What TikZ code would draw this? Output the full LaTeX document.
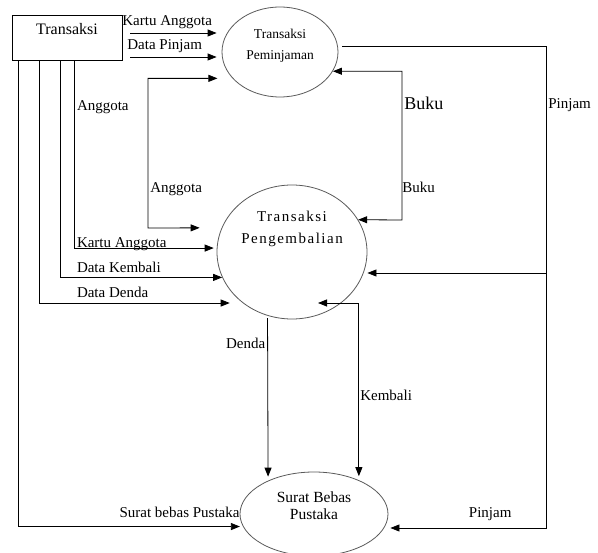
\documentclass[tikz,border=0pt]{standalone}
\usepackage{fontspec}
\setmainfont{Liberation Serif}
\newfontfamily\spacedfont[LetterSpace=10]{Liberation Serif}
\usetikzlibrary{shapes.geometric}
\usetikzlibrary{arrows.meta}
\newcommand{\proctext}[2]{\begin{tabular}{@{}c@{}}#2\\[#1]\end{tabular}}

\begin{document}
\begin{tikzpicture}[x=1pt,y=-1pt,
  >={Triangle[length=9pt,width=7pt]},
  line/.style={line width=0.8pt},
  flow/.style={line,->},
  flow2/.style={line,<->},
  lbl/.style={inner sep=0pt,font=\fontsize{15}{17}\selectfont},
  box/.style={draw,line width=0.8pt,minimum width=110pt,minimum height=45pt,inner sep=0pt,text depth=18pt,font=\fontsize{16}{18}\selectfont},
  proc/.style={ellipse,draw=black!65,line width=0.8pt,inner sep=0pt}]
\useasboundingbox (0,0) rectangle (598,553);
\node[box] (trx) at (67,37.5) {Transaksi};
\node[proc,minimum width=116pt,minimum height=90pt,font=\fontsize{13.5}{21}\selectfont] (pem) at (280,52) {\proctext{14pt}{Transaksi\\Peminjaman}};
\node[proc,minimum width=150pt,minimum height=134pt,font=\spacedfont\fontsize{15}{22}\selectfont] (kem) at (292,252) {\proctext{47pt}{Transaksi\\Pengembalian}};
\node[proc,minimum width=148pt,minimum height=84pt,font=\fontsize{15.5}{17}\selectfont] (sbp) at (314,514) {\proctext{12pt}{Surat Bebas\\Pustaka}};
\coordinate (ka0) at (130,33);
\coordinate (dp0) at (130,57);
\coordinate (pj) at (546,46);
\coordinate (pj2) at (546,528);
\coordinate (pjm) at (546,273);
\coordinate (ag) at (148,228);
\coordinate (bk) at (402,220);
\coordinate (kb) at (318,303);
\draw[flow,shorten >=5pt] (ka0) -- node[lbl,pos=0,anchor=base west,xshift=-8pt,yshift=7pt] {Kartu Anggota} (pem.west |- ka0);
\draw[flow,shorten >=5pt] (dp0) -- node[lbl,pos=0,anchor=base west,xshift=-3pt,yshift=7pt] {Data Pinjam} (pem.west |- dp0);
\draw[flow2,shorten <=15pt,shorten >=22pt] (pem.209) -| node[lbl,pos=0.88,anchor=base west,xshift=2pt] {Anggota} (ag) -- (kem.161);
\draw[flow2] (pem.-20) -| node[lbl,pos=0.63,anchor=base west,xshift=2pt,font=\fontsize{18}{20}\selectfont] {Buku}
  node[lbl,pos=0.906,anchor=base west] {Buku} (bk) -- (kem.26);
\draw[flow,shorten <=4pt,shorten >=2pt] (pem.east |- pj) -- (pj) -- node[lbl,pos=0.13,anchor=base west,xshift=2pt] {Pinjam} (pj2)
  -- node[lbl,pos=0.354,anchor=base,yshift=10pt] {Pinjam} (sbp.east |- pj2);
\draw[flow] (pjm) -- (kem.east |- pjm);
\draw[flow,shorten >=3pt] ([xshift=63pt]trx.south west) |- node[lbl,pos=0.133,anchor=base west,xshift=2pt] {Anggota}
  node[lbl,pos=0.5,anchor=base west,xshift=2pt,yshift=1pt] {Kartu Anggota} (kem.177);
\draw[flow] ([xshift=49pt]trx.south west) |- node[lbl,pos=0.5,anchor=base west,xshift=16pt,yshift=5pt] {Data Kembali} (kem.200);
\draw[flow,shorten >=13pt] ([xshift=28pt]trx.south west) |- node[lbl,pos=0.5,anchor=base west,xshift=37pt,yshift=6pt] {Data Denda} (kem.226);
\draw[flow,shorten >=3pt] ([xshift=7pt]trx.south west) |- node[lbl,pos=1,anchor=base east,xshift=-3pt,yshift=9pt] {Surat bebas Pustaka} (sbp.190);
\draw[flow2,shorten >=4pt] (kb) -| node[lbl,pos=0.776,anchor=base west,xshift=1pt] {Kembali} (sbp.37);
\draw[flow,shorten <=2.5pt,shorten >=4pt] (kem.249) -- node[lbl,pos=0.2,anchor=base east,xshift=-2pt] {Denda} (sbp.144);
\end{tikzpicture}
\end{document}
